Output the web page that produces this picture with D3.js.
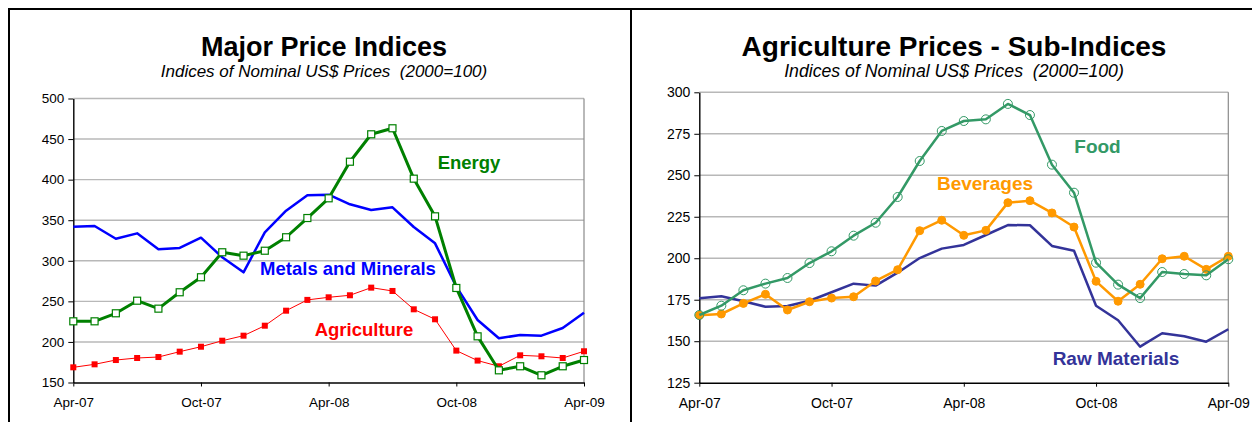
<!DOCTYPE html>
<html>
<head>
<meta charset="utf-8">
<script src="https://cdn.jsdelivr.net/npm/d3@7"></script>
<style>
  body { margin: 0; background: #fff; }
  svg { display: block; font-family: "Liberation Sans", Arial, sans-serif; }
</style>
</head>
<body>
<svg id="chart" width="1252" height="422"></svg>
<script>
// Data: monthly index values Apr-07 .. Apr-09 (25 months)
const months = ["Apr-07","May-07","Jun-07","Jul-07","Aug-07","Sep-07","Oct-07","Nov-07","Dec-07",
  "Jan-08","Feb-08","Mar-08","Apr-08","May-08","Jun-08","Jul-08","Aug-08","Sep-08","Oct-08",
  "Nov-08","Dec-08","Jan-09","Feb-09","Mar-09","Apr-09"];
const tickMonths = ["Apr-07","Oct-07","Apr-08","Oct-08","Apr-09"];

// left chart
const energy = [225.4,225.4,235.3,250.8,241,261.2,279.7,310.5,306.3,312.4,329,352.7,377,
  422.1,455.9,463.3,401.2,354.8,266.5,206.9,165,170,158.9,170,177.7];
const metals = [342,342.9,327.2,333.8,314.2,315.8,328.5,304.3,285.8,335.1,361.7,380.7,381.5,
  369.6,362.6,365.9,341.6,321.5,268.1,227,204.5,208.5,207.7,217.2,236];
const agriculture = [168.7,172.4,177.7,180.2,181.4,188,194.1,201.5,207.7,220,238.5,251.8,255,
  257.5,266.9,262.8,240.2,227.9,189.3,177,170,183.5,182.3,180.2,188.5];
const leftTicks = [150,200,250,300,350,400,450,500];

// right chart
const food = [165.8,171.4,180.7,184.7,188.1,197.1,204.2,213.6,221.4,236.9,258.6,276.7,282.7,
  283.7,293,286.3,256.4,239.5,197.3,184.1,176,191.7,190.5,189.7,199.4];
const beverages = [165.6,166.4,172.8,178.3,168.8,173.8,176,176.8,186.3,193.1,216.6,222.9,213.8,
  216.8,233.5,234.7,227.3,218.8,186.1,174.1,184.3,199.7,201.2,193.3,201.2];
const rawMaterials = [175.9,177.1,174.1,170.8,171.2,174.4,179.5,184.7,183.5,191.3,200.1,205.8,208,
  214,220,219.9,207.4,204.5,171.4,162.6,146.7,154.8,153,149.7,157.2];
const rightTicks = [125,150,175,200,225,250,275,300];

const svg = d3.select("#chart");
const FONT = "'Liberation Sans', Arial, sans-serif";

// page frame lines (panel borders)
svg.append("line").attr("x1", 8).attr("x2", 1252).attr("y1", 9).attr("y2", 9)
  .attr("stroke", "#000").attr("stroke-width", 2);
svg.append("line").attr("x1", 9).attr("x2", 9).attr("y1", 8).attr("y2", 422)
  .attr("stroke", "#000").attr("stroke-width", 2);
svg.append("line").attr("x1", 631).attr("x2", 631).attr("y1", 8).attr("y2", 422)
  .attr("stroke", "#000").attr("stroke-width", 2);

function drawPanel(cfg) {
  const g = svg.append("g");
  const x = d3.scaleLinear().domain([0, months.length - 1]).range([cfg.left, cfg.right]);
  const y = d3.scaleLinear().domain(cfg.domain).range([cfg.bottom, cfg.top]);

  // titles
  g.append("text").attr("x", cfg.cx).attr("y", 56).attr("text-anchor", "middle")
    .attr("font-size", cfg.titleSize).attr("font-weight", "bold").attr("fill", "#000")
    .text(cfg.title);
  g.append("text").attr("x", cfg.cx).attr("y", 77).attr("text-anchor", "middle")
    .attr("font-size", cfg.subSize).attr("font-style", "italic").attr("fill", "#000")
    .text("Indices of Nominal US$ Prices\u00a0\u00a0(2000=100)");

  // gridlines
  g.append("g").selectAll("line").data(cfg.ticks.slice(1)).join("line")
    .attr("x1", cfg.left).attr("x2", cfg.right)
    .attr("y1", d => y(d)).attr("y2", d => y(d))
    .attr("stroke", "#b8b8b8").attr("stroke-width", 1.4);
  // plot frame right edge
  g.append("line").attr("x1", cfg.right).attr("x2", cfg.right)
    .attr("y1", cfg.top).attr("y2", cfg.bottom)
    .attr("stroke", "#8a8a8a").attr("stroke-width", 1.2);

  // axes
  const ya = g.append("g").attr("transform", `translate(${cfg.left},0)`)
    .call(d3.axisLeft(y).tickValues(cfg.ticks).tickSize(5).tickPadding(4).tickSizeOuter(0));
  ya.select(".domain").attr("stroke-width", 1.4);
  ya.selectAll("text").attr("font-size", cfg.tickSize).attr("font-family", FONT).attr("fill", "#000");

  const xa = g.append("g").attr("transform", `translate(0,${cfg.bottom})`)
    .call(d3.axisBottom(x).tickValues(tickMonths.map(m => months.indexOf(m)))
      .tickFormat(i => months[i]).tickSize(4).tickPadding(11).tickSizeOuter(0));
  xa.select(".domain").attr("stroke-width", 1.4);
  xa.selectAll("text").attr("font-size", cfg.tickSize).attr("font-family", FONT).attr("fill", "#000");

  // series
  const line = d3.line().x((d, i) => x(i)).y(d => y(d));
  cfg.series.forEach(s => {
    g.append("path").datum(s.values).attr("d", line)
      .attr("fill", "none").attr("stroke", s.color).attr("stroke-width", s.width)
      .attr("stroke-linejoin", "round");
    if (s.marker === "square" || s.marker === "openSquare") {
      const sz = s.size;
      g.append("g").selectAll("rect").data(s.values).join("rect")
        .attr("x", (d, i) => x(i) - sz / 2).attr("y", d => y(d) - sz / 2)
        .attr("width", sz).attr("height", sz)
        .attr("fill", s.marker === "square" ? s.color : "#fff")
        .attr("stroke", s.color).attr("stroke-width", s.marker === "square" ? 0 : 1.2);
    } else if (s.marker === "circle" || s.marker === "openCircle") {
      g.append("g").selectAll("circle").data(s.values).join("circle")
        .attr("cx", (d, i) => x(i)).attr("cy", d => y(d)).attr("r", s.size)
        .attr("fill", s.marker === "circle" ? s.color : "none")
        .attr("stroke", s.color).attr("stroke-width", 1);
    }
  });

  // series labels
  cfg.labels.forEach(l => {
    g.append("text").attr("x", l.x).attr("y", l.y).attr("text-anchor", "middle")
      .attr("font-size", cfg.labelSize).attr("font-weight", "bold").attr("fill", l.color)
      .text(l.text);
  });
}

drawPanel({
  left: 73.3, right: 584, top: 98.5, bottom: 382.5, domain: [150, 500], ticks: leftTicks,
  cx: 324, title: "Major Price Indices", titleSize: 27, subSize: 17, tickSize: 13.5, labelSize: 18.5,
  series: [
    { values: metals, color: "#0000ff", width: 2.5, marker: null },
    { values: agriculture, color: "#ff0000", width: 1, marker: "square", size: 6 },
    { values: energy, color: "#008000", width: 3, marker: "openSquare", size: 7 }
  ],
  labels: [
    { text: "Energy", x: 469, y: 169, color: "#008000" },
    { text: "Metals and Minerals", x: 348, y: 275, color: "#0000ff" },
    { text: "Agriculture", x: 364, y: 336, color: "#ff0000" }
  ]
});

drawPanel({
  left: 699.3, right: 1228.3, top: 92.3, bottom: 382.7, domain: [125, 300], ticks: rightTicks,
  cx: 954, title: "Agriculture Prices - Sub-Indices", titleSize: 28, subSize: 17.7, tickSize: 14, labelSize: 19,
  series: [
    { values: rawMaterials, color: "#333399", width: 2.5, marker: null },
    { values: beverages, color: "#ff9900", width: 2.5, marker: "circle", size: 4 },
    { values: food, color: "#339966", width: 2.5, marker: "openCircle", size: 4.5 }
  ],
  labels: [
    { text: "Food", x: 1097.5, y: 153, color: "#339966" },
    { text: "Beverages", x: 985, y: 190, color: "#ff9900" },
    { text: "Raw Materials", x: 1116, y: 365, color: "#333399" }
  ]
});
</script>
</body>
</html>
